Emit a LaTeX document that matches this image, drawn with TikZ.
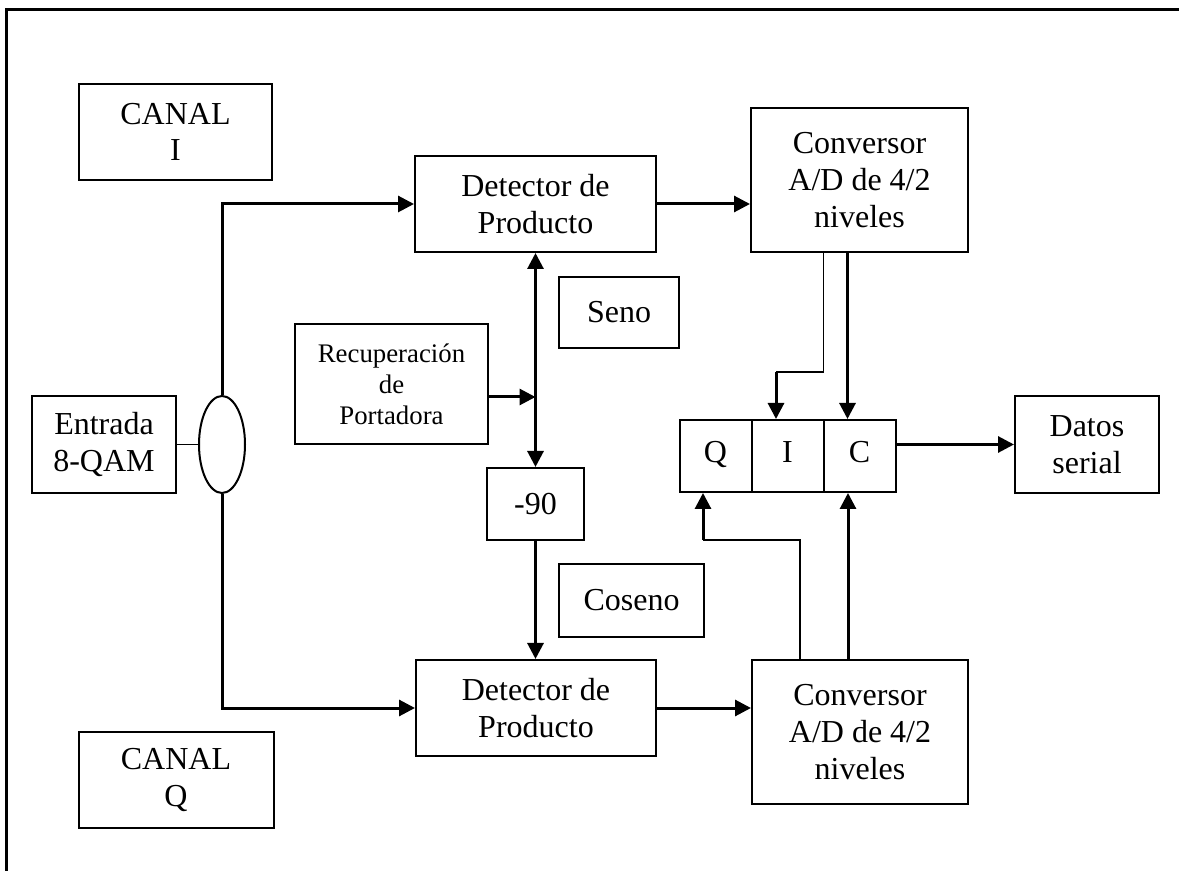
\documentclass[tikz,border=0pt]{standalone}
\usepackage{fontspec}
\setmainfont{Liberation Serif}
\usetikzlibrary{arrows.meta,positioning,shapes.geometric}
\tikzset{blk/.style={draw,line width=1pt,align=center,inner sep=0pt,
  font=\fontsize{16}{18.4}\selectfont},
  cell/.style={blk,minimum width=36pt,minimum height=36pt,text height=11pt,text depth=4pt},
  arrow/.style={-{Triangle[length=8pt,width=8pt]},line width=1.5pt},
  dbl/.style={{Triangle[length=8pt,width=8pt]}-{Triangle[length=8pt,width=8pt]},line width=1.5pt},
  wire/.style={line width=0.9pt}}

\begin{document}
\begin{tikzpicture}[x=0.5pt,y=-0.5pt]
\useasboundingbox (0,0) rectangle (1179,871);
\draw[line width=1.5pt] (1179,10) -- (6,10) -- (6,871);
% bloques
\node[blk,minimum width=96.5pt,minimum height=48pt] (canI) at (175.5,132) {CANAL\\I};
\node[blk,minimum width=97.5pt,minimum height=48pt] (canQ) at (176,780) {CANAL\\Q};
\node[blk,minimum width=72pt,minimum height=48.5pt] (ent) at (104,444.5) {Entrada\\8-QAM};
\node[draw,ellipse,line width=1pt,inner sep=0pt,minimum width=23pt,minimum height=48.5pt] (ell) at (222,444.5) {};
\node[blk,minimum width=120.5pt,minimum height=48pt] (detI) at (535.5,204) {Detector de\\Producto};
\node[blk,minimum width=120pt,minimum height=48pt] (detQ) at (536,708) {Detector de\\Producto};
\node[blk,minimum width=96.5pt,minimum height=60pt,font=\fontsize{13.4}{15.5}\selectfont] (rec) at (391.5,384) {Recuperación\\de\\Portadora};
\node[blk,minimum width=60pt,minimum height=35.5pt] (seno) at (619,312.5) {Seno};
\node[blk,minimum width=48.5pt,minimum height=36pt] (n90) at (535.5,504) {-90};
\node[blk,minimum width=72.5pt,minimum height=36.5pt] (cos) at (631.5,600.5) {Coseno};
\node[blk,minimum width=108.5pt,minimum height=72pt] (convI) at (859.5,180) {Conversor\\A/D de 4/2\\niveles};
\node[blk,minimum width=108pt,minimum height=72pt] (convQ) at (860,732) {Conversor\\A/D de 4/2\\niveles};
\foreach \lab [count=\i] in {Q,I,C}{
  \node[cell] (c\lab) at (643.5+72*\i,456) {\lab};}
\node[blk,minimum width=72pt,minimum height=48.5pt] (dat) at (1087,444.5) {Datos\\serial};
% conexiones
\draw[wire] (ent) -- (ell);
\draw[arrow] (ell.north) |- (detI.west);
\draw[arrow] (ell.south) |- (detQ.west);
\draw[arrow] (detI.east) -- (detI.east -| convI.west);
\draw[arrow] (detQ.east) -- (detQ.east -| convQ.west);
\draw[dbl] (detI.south) -- (n90.north);
\draw[arrow] (n90.south) -- (n90.south |- detQ.north);
\draw[arrow] ([yshift=-6.5pt]rec.east) -- ([yshift=-6.5pt]rec.east -| detI.south);
\coordinate (kI) at (776,372);
\draw[wire] ([xshift=-18pt]convI.south) |- (kI);
\draw[arrow] (kI) -- (kI |- cI.north);
\draw[arrow] ([xshift=-6pt]convI.south) -- ([xshift=-6pt]convI.south |- cC.north);
\coordinate (kQ) at (703,540);
\draw[wire] ([xshift=-30pt]convQ.north) |- (kQ);
\draw[arrow] (kQ) -- (kQ |- cQ.south);
\draw[arrow] ([xshift=-6pt]convQ.north) -- ([xshift=-6pt]convQ.north |- cC.south);
\draw[arrow] (cC.east |- dat.west) -- (dat.west);
\end{tikzpicture}
\end{document}
